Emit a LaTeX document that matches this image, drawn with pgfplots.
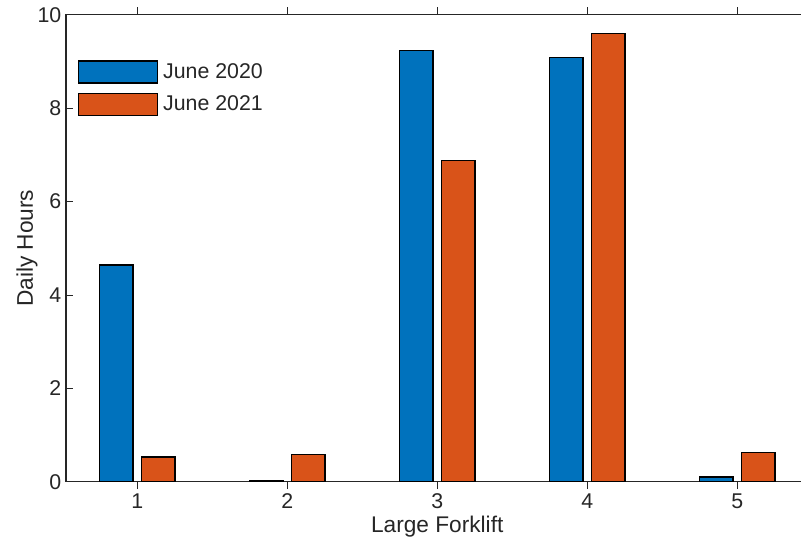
\documentclass[border=0pt]{standalone}
\usepackage{pgfplots}
\pgfplotsset{compat=1.18}
\usepackage{fontspec}
\setmainfont{Liberation Sans}
\definecolor{mblue}{HTML}{0072BD}
\definecolor{morange}{HTML}{D95319}
\definecolor{mgray}{HTML}{262626}
\begin{document}
\begin{tikzpicture}
\useasboundingbox (-49.5pt,-46.7pt) rectangle (551.25pt,361.3pt);
\clip (-49.5pt,-46.7pt) rectangle (551.25pt,361.3pt);
\begin{axis}[
  scale only axis,
  width=556.9pt, height=350.25pt,
  at={(0,0)}, anchor=south west,
  xmin=0.525, xmax=5.475, ymin=0, ymax=10,
  xtick={1,2,3,4,5}, ytick={0,2,4,6,8,10},
  tick align=inside, major tick length=5.5pt,
  tick style={mgray, line width=0.6pt},
  axis line style={mgray, line width=0.8pt},
  ybar, bar width=0.224,
  legend image code/.code={\draw[#1] (0pt,-8.25pt) rectangle (59pt,8.25pt);},
  /pgf/number format/assume math mode=true,
  ticklabel style={font=\fontsize{16}{19}\selectfont, text=mgray},
  xlabel={Large Forklift}, ylabel={Daily Hours},
  label style={font=\fontsize{17}{20}\selectfont, text=mgray},
  xlabel style={at={(rel axis cs:0.5,-0.097)}, anchor=center},
  ylabel style={at={(rel axis cs:-0.0525,0.5)}, anchor=center},
  legend style={draw=none, fill=none, at={(rel axis cs:0,1)}, anchor=north west,
    xshift=9pt, yshift=-34pt, inner sep=0pt, row sep=6.75pt,
    nodes={inner sep=0pt, text=mgray}, font=\fontsize{16}{19}\selectfont,
    /tikz/every odd column/.style={column sep=3.75pt}},
  legend cell align=left,
]
\addplot[fill=mblue, draw=black, line width=0.9pt, bar shift=-0.14] coordinates {(1,4.64) (2,0.03) (3,9.23) (4,9.08) (5,0.10)};
\addplot[fill=morange, draw=black, line width=0.9pt, bar shift=0.14] coordinates {(1,0.53) (2,0.58) (3,6.88) (4,9.59) (5,0.62)};
\legend{June 2020, June 2021}
\end{axis}
\end{tikzpicture}
\end{document}
